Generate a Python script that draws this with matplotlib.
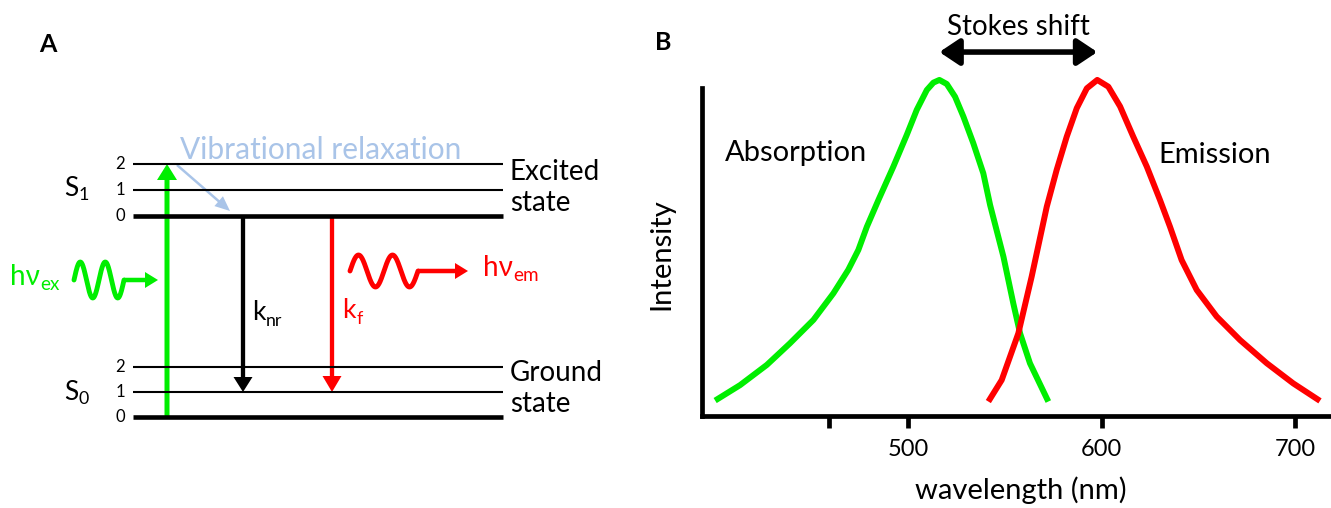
import numpy as np
import matplotlib
matplotlib.use('Agg')
import matplotlib.pyplot as plt

plt.rcParams['font.family'] = ['Lato', 'DejaVu Sans']

# ---- panel B: spectra (wavelength nm, relative intensity) ----
abs_nm = [400.3, 413.2, 427.0, 438.9, 451.1, 461.4, 469.1, 474.3, 478.7, 484.7,
          492.4, 499.3, 504.5, 509.7, 513.1, 516.2, 520.0, 524.3, 528.6, 533.7,
          538.9, 542.4, 549.3, 554.4, 557.9, 563.0, 572.5]
abs_int = [0.046, 0.092, 0.152, 0.216, 0.286, 0.365, 0.435, 0.494, 0.563, 0.643,
           0.742, 0.836, 0.911, 0.970, 0.992, 1.000, 0.988, 0.950, 0.891, 0.812,
           0.722, 0.628, 0.474, 0.335, 0.246, 0.157, 0.043]
em_nm = [541.5, 548.4, 557.0, 563.9, 571.7, 576.8, 582.0, 587.2, 592.4, 597.8,
         603.5, 609.6, 616.4, 623.4, 630.2, 635.4, 641.4, 649.2, 659.5, 671.6,
         685.4, 699.1, 712.9]
em_int = [0.043, 0.107, 0.246, 0.415, 0.623, 0.732, 0.831, 0.916, 0.975, 1.000,
          0.980, 0.921, 0.831, 0.742, 0.643, 0.563, 0.464, 0.375, 0.296, 0.226,
          0.157, 0.097, 0.045]
tick_pos = [459, 500, 600, 700]
tick_labels = ['', '500', '600', '700']
abs_peak = 516.2
em_peak = 597.8

# ---- panel A: Jablonski levels ----
s1_levels = ['0', '1', '2']
s0_levels = ['0', '1', '2']

GREEN = '#00ee00'
RED = '#ff0000'
VIB = '#a9c4e8'

fig = plt.figure(figsize=(13.31, 5.08), dpi=100)
fig.patch.set_facecolor('white')

# overlay axes in pixel units for the diagram
ov = fig.add_axes([0, 0, 1, 1])
ov.set_xlim(0, 1331)
ov.set_ylim(508, 0)
ov.axis('off')


def sub_text(ax, x, y, main, sub, size, color, ha='left'):
    t = ax.text(x, y, main, fontsize=size, color=color, ha=ha, va='center')
    ax.annotate(sub, xy=(1, 0), xycoords=t, xytext=(0.5, 0),
                textcoords='offset points', fontsize=size * 0.68, color=color,
                ha='left', va='baseline')
    return t


def photon(ax, x0, yc, amp, period, ncyc, x_tip, color):
    xs = np.linspace(x0, x0 + ncyc * period, 200)
    ys = yc - amp * np.sin(2 * np.pi * (xs - x0) / period)
    ax.plot(xs, ys, color=color, lw=3.5, solid_capstyle='round')
    ax.arrow(xs[-1], yc, x_tip - xs[-1], 0, width=4.5, head_width=16,
             head_length=13, length_includes_head=True, color=color, lw=0)


x_left, x_right = 133, 503
s1_y = {'0': 216, '1': 190, '2': 164}
s0_y = {'0': 417, '1': 392, '2': 367}
for lv in s1_levels:
    ov.plot([x_left, x_right], [s1_y[lv]] * 2, color='black',
            lw=3.3 if lv == '0' else 1.5, solid_capstyle='butt')
    ov.text(125, s1_y[lv], lv, fontsize=12, ha='right', va='center')
for lv in s0_levels:
    ov.plot([x_left, x_right], [s0_y[lv]] * 2, color='black',
            lw=3.3 if lv == '0' else 1.5, solid_capstyle='butt')
    ov.text(125, s0_y[lv], lv, fontsize=12, ha='right', va='center')

sub_text(ov, 64, 188, 'S', '1', 19, 'black')
sub_text(ov, 64, 392, 'S', '0', 19, 'black')

ov.text(510, 172, 'Excited', fontsize=20, va='center')
ov.text(510, 203, 'state', fontsize=20, va='center')
ov.text(510, 373, 'Ground', fontsize=20, va='center')
ov.text(510, 404, 'state', fontsize=20, va='center')

# excitation, relaxation and emission arrows
ov.arrow(167, 417, 0, 164 - 417, width=5, head_width=20, head_length=16,
         length_includes_head=True, color=GREEN, lw=0)
ov.arrow(243, 216, 0, 392 - 216, width=4.3, head_width=19, head_length=15,
         length_includes_head=True, color='black', lw=0)
ov.arrow(332, 216, 0, 392 - 216, width=4.3, head_width=19, head_length=16,
         length_includes_head=True, color=RED, lw=0)
ov.arrow(177, 165, 53, 46, width=2.5, head_width=13, head_length=15,
         length_includes_head=True, color=VIB, lw=0)
ov.text(180, 150, 'Vibrational relaxation', fontsize=21.5, color=VIB,
        va='center')

sub_text(ov, 252, 313, 'k', 'nr', 19, 'black')
sub_text(ov, 342, 311, 'k', 'f', 19, RED)

photon(ov, 74, 280, 18, 25, 2, 158, GREEN)
photon(ov, 350, 271, 16, 34, 2, 468, RED)
sub_text(ov, 10, 277, 'hν', 'ex', 20, GREEN)
sub_text(ov, 483, 268, 'hν', 'em', 20, RED)

ov.text(48, 45, 'A', fontsize=18, fontweight='bold', ha='center', va='center')
ov.text(663, 42, 'B', fontsize=18, fontweight='bold', ha='center', va='center')

# ---- panel B ----
axb = fig.add_axes([702 / 1331, (508 - 416) / 508, 629 / 1331, 328 / 508])
axb.patch.set_alpha(0)
axb.plot(abs_nm, abs_int, color=GREEN, lw=4.3, clip_on=False,
         solid_joinstyle='round', solid_capstyle='butt')
axb.plot(em_nm, em_int, color=RED, lw=4.3, clip_on=False,
         solid_joinstyle='round', solid_capstyle='butt')
axb.set_xlim(393.5, 718.6)
axb.set_ylim(0, 0.976)
for s in ['top', 'right']:
    axb.spines[s].set_visible(False)
for s in ['left', 'bottom']:
    axb.spines[s].set_linewidth(3.4)
    axb.spines[s].set_capstyle('projecting')
axb.set_yticks([])
axb.set_xticks(tick_pos, tick_labels)
axb.tick_params(axis='x', direction='out', length=8.6, width=3.4, pad=8,
                labelsize=17)
axb.set_xlabel('wavelength (nm)', fontsize=21, va='center')
axb.xaxis.set_label_coords(0.507, -0.226)
axb.set_ylabel('Intensity', fontsize=21, va='center')
axb.yaxis.set_label_coords(-0.064, 0.494)

axb.text(405.4, 0.783, 'Absorption', fontsize=21, va='center')
axb.text(629.2, 0.777, 'Emission', fontsize=21, va='center')
axb.annotate('', xy=(abs_peak, 1.083), xytext=(em_peak, 1.083),
             arrowprops=dict(arrowstyle='<|-|>,head_length=0.6,head_width=0.4',
                             lw=4, color='black', mutation_scale=20,
                             shrinkA=0, shrinkB=0),
             annotation_clip=False)
axb.text((abs_peak + em_peak) / 2, 1.158, 'Stokes shift', fontsize=20,
         ha='center', va='center')

fig.savefig('out.png', dpi=100, facecolor='white')
